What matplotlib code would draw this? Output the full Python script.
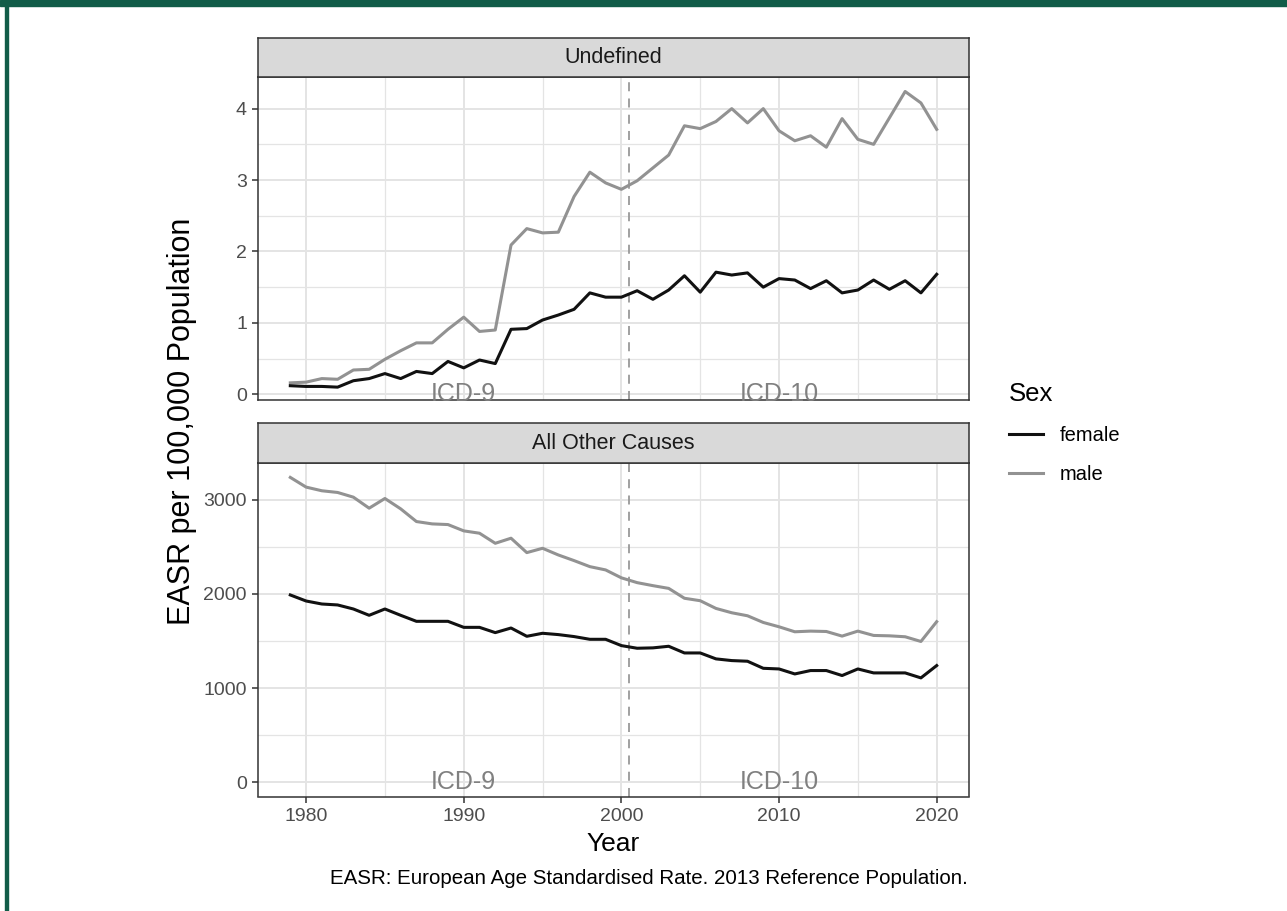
import matplotlib
matplotlib.use("Agg")
import matplotlib.pyplot as plt
from matplotlib.lines import Line2D
from matplotlib.patches import Rectangle

plt.rcParams['font.family'] = ['Liberation Sans', 'DejaVu Sans']

# data
years = list(range(1979, 2021))

und_female = [0.12, 0.11, 0.11, 0.10, 0.19, 0.22, 0.29, 0.22, 0.32, 0.29, 0.46, 0.37,
              0.48, 0.43, 0.91, 0.92, 1.04, 1.11, 1.19, 1.42, 1.36, 1.36,
              1.45, 1.33, 1.46, 1.66, 1.43, 1.71, 1.67, 1.70, 1.50, 1.62,
              1.60, 1.48, 1.59, 1.42, 1.46, 1.60, 1.47, 1.59, 1.42, 1.68]
und_male = [0.16, 0.17, 0.22, 0.21, 0.34, 0.35, 0.49, 0.61, 0.72, 0.72, 0.91, 1.08,
            0.88, 0.90, 2.09, 2.32, 2.26, 2.27, 2.77, 3.11, 2.96, 2.87,
            2.99, 3.17, 3.35, 3.76, 3.72, 3.82, 4.00, 3.80, 4.00, 3.69,
            3.55, 3.62, 3.46, 3.86, 3.57, 3.50, 3.87, 4.24, 4.08, 3.71]
oth_female = [1989, 1925, 1893, 1883, 1840, 1773, 1840, 1773, 1709, 1709, 1709, 1645,
              1645, 1589, 1638, 1550, 1582, 1568, 1547, 1518, 1518, 1451,
              1423, 1427, 1444, 1373, 1373, 1310, 1292, 1285, 1210, 1203,
              1150, 1186, 1186, 1133, 1203, 1161, 1161, 1161, 1108, 1239]
oth_male = [3238, 3135, 3096, 3078, 3028, 2911, 3014, 2904, 2769, 2744, 2737, 2670,
            2645, 2538, 2592, 2439, 2485, 2414, 2354, 2290, 2255, 2171,
            2120, 2088, 2059, 1954, 1928, 1846, 1800, 1768, 1697, 1651,
            1598, 1605, 1601, 1552, 1605, 1559, 1555, 1545, 1495, 1705]

panels = ['Undefined', 'All Other Causes']
icd_break = 2000.5

W, H = 1287, 911
fig = plt.figure(figsize=(W / 100, H / 100), dpi=100)


def box(l, t, r, b):
    # pixel box -> figure fraction rect
    return [l / W, 1 - b / H, (r - l) / W, (b - t) / H]


col_f = '#111111'
col_m = '#929292'
grid_c = '#e4e4e4'

setups = [
    (box(258, 76.5, 969, 400), box(258, 38, 969, 76.5), und_female, und_male,
     (-0.08, 4.45), [0, 1, 2, 3, 4], [0.5, 1.5, 2.5, 3.5], 0),
    (box(258, 463, 969, 796.5), box(258, 423, 969, 463), oth_female, oth_male,
     (-152, 3391), [0, 1000, 2000, 3000], [500, 1500, 2500], 0),
]

axes = []
for i, (rect, srect, fem, mal, ylim, yt, ymin, ylab0) in enumerate(setups):
    ax = fig.add_axes(rect)
    ax.set_xlim(1976.95, 2022.05)
    ax.set_ylim(*ylim)
    ax.set_xticks([1980, 1990, 2000, 2010, 2020])
    ax.set_xticks([1985, 1995, 2005, 2015], minor=True)
    ax.set_yticks(yt)
    ax.set_yticks(ymin, minor=True)
    ax.grid(True, which='major', color=grid_c, lw=1.4)
    ax.grid(True, which='minor', color=grid_c, lw=0.9)
    ax.set_axisbelow(True)
    ax.tick_params(which='minor', length=0)
    ax.tick_params(which='major', length=4, width=1.1, color='#333333',
                   labelsize=14, labelcolor='#4d4d4d', pad=4)
    for s in ax.spines.values():
        s.set_color('#333333')
        s.set_linewidth(1.1)
    ax.axvline(icd_break, color='#999999', lw=1.3, ls=(0, (5, 4)))
    ax.plot(years, mal, color=col_m, lw=2.2)
    ax.plot(years, fem, color=col_f, lw=2.2)
    ax.text(1990, ylab0, 'ICD-9', ha='center', va='center', fontsize=18,
            color='#808080', clip_on=False, zorder=10)
    ax.text(2010, ylab0, 'ICD-10', ha='center', va='center', fontsize=18,
            color='#808080', clip_on=False, zorder=10)
    if i == 0:
        ax.tick_params(axis='x', labelbottom=False, length=0)
    else:
        ax.set_xlabel('Year', fontsize=19, labelpad=5)

    sax = fig.add_axes(srect)
    sax.set_facecolor('#d9d9d9')
    sax.set_xticks([])
    sax.set_yticks([])
    for s in sax.spines.values():
        s.set_color('#333333')
        s.set_linewidth(1.1)
    sax.text(0.5, 0.5, panels[i], ha='center', va='center', fontsize=15.5,
             color='#1a1a1a', transform=sax.transAxes)
    axes.append(ax)

fig.text(182 / W, 1 - 421 / H, 'EASR per 100,000 Population', rotation=90,
         ha='center', va='center', fontsize=22)

handles = [Line2D([], [], color=col_f, lw=2.2), Line2D([], [], color=col_m, lw=2.2)]
leg = fig.legend(handles, ['female', 'male'], title='Sex', loc='upper left',
                 bbox_to_anchor=(991 / W, 1 - 364 / H), frameon=False,
                 fontsize=14.5, title_fontsize=18.5, handlelength=1.7,
                 labelspacing=1.0, handletextpad=0.8, alignment='left')

fig.text(968 / W, 1 - 879 / H,
         'EASR: European Age Standardised Rate. 2013 Reference Population.',
         ha='right', va='center', fontsize=14.8)

# green frame of the source page
green = '#115c48'
fig.patches.append(Rectangle((0, 1 - 6 / H), 1, 6 / H, transform=fig.transFigure,
                             color=green, zorder=5))
fig.patches.append(Rectangle((5 / W, 0), 2.5 / W, 1, transform=fig.transFigure,
                             color=green, zorder=5))

fig.savefig('out.png', dpi=100)
